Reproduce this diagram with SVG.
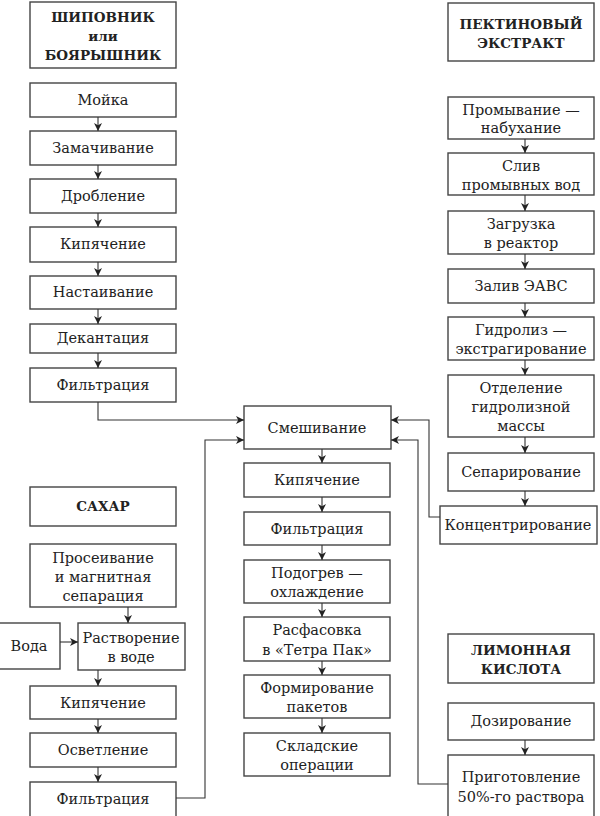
<svg xmlns="http://www.w3.org/2000/svg" width="600" height="816" viewBox="0 0 600 816">
<defs>
<marker id="ah" markerUnits="userSpaceOnUse" markerWidth="9" markerHeight="9" refX="8" refY="4.5" orient="auto">
<path d="M0,0.5 L8,4.5 L0,8.5 L2.2,4.5 Z" fill="#222"/>
</marker>
<style>
rect{fill:#fff;stroke:#444;stroke-width:1.4}
text{font-family:"DejaVu Serif","Liberation Serif",serif;font-size:14.5px;fill:#222;text-anchor:middle}
.b{font-weight:bold;font-size:13.5px}
.c line,.c polyline{stroke:#333;stroke-width:1.1;fill:none;marker-end:url(#ah)}
</style>
</defs>
<rect x="0" y="0" width="600" height="816" style="fill:#fff;stroke:none"/>
<g id="n_shipovnik"><rect x="30" y="2" width="146" height="66"/><text class="b" x="103" y="22">ШИПОВНИК</text><text class="b" x="103" y="41">или</text><text class="b" x="103" y="60">БОЯРЫШНИК</text></g>
<g id="n_moika"><rect x="30" y="83" width="146" height="34"/><text x="103" y="105">Мойка</text></g>
<g id="n_zamach"><rect x="30" y="131" width="146" height="34"/><text x="103" y="153">Замачивание</text></g>
<g id="n_drobl"><rect x="30" y="179" width="146" height="34"/><text x="103" y="201">Дробление</text></g>
<g id="n_kip1"><rect x="30" y="227" width="146" height="35"/><text x="103" y="249">Кипячение</text></g>
<g id="n_nast"><rect x="30" y="276" width="146" height="33"/><text x="103" y="297">Настаивание</text></g>
<g id="n_dekant"><rect x="30" y="324" width="146" height="29"/><text x="103" y="343">Декантация</text></g>
<g id="n_filt1"><rect x="30" y="368" width="146" height="34"/><text x="103" y="390">Фильтрация</text></g>

<g id="n_sahar"><rect x="30" y="487" width="146" height="39"/><text class="b" x="103" y="511">САХАР</text></g>
<g id="n_prosev"><rect x="30" y="544" width="146" height="63"/><text x="103" y="563">Просеивание</text><text x="103" y="582">и магнитная</text><text x="103" y="601">сепарация</text></g>
<g id="n_voda"><rect x="-2" y="623" width="62" height="46"/><text x="29" y="651">Вода</text></g>
<g id="n_rastv"><rect x="78" y="623" width="107" height="47"/><text x="131" y="643">Растворение</text><text x="131" y="662">в воде</text></g>
<g id="n_kip2"><rect x="30" y="686" width="146" height="33"/><text x="103" y="708">Кипячение</text></g>
<g id="n_osvet"><rect x="30" y="733" width="146" height="34"/><text x="103" y="755">Осветление</text></g>
<g id="n_filt2"><rect x="30" y="782" width="146" height="36"/><text x="103" y="804">Фильтрация</text></g>

<g id="n_smesh"><rect x="244" y="406" width="147" height="43"/><text x="317" y="433">Смешивание</text></g>
<g id="n_kip3"><rect x="244" y="463" width="146" height="34"/><text x="317" y="485">Кипячение</text></g>
<g id="n_filt3"><rect x="244" y="512" width="146" height="33"/><text x="317" y="534">Фильтрация</text></g>
<g id="n_podogr"><rect x="244" y="560" width="146" height="43"/><text x="317" y="578">Подогрев —</text><text x="317" y="597">охлаждение</text></g>
<g id="n_rasfas"><rect x="244" y="617" width="146" height="44"/><text x="317" y="635">Расфасовка</text><text x="317" y="655">в «Тетра Пак»</text></g>
<g id="n_form"><rect x="244" y="675" width="146" height="43"/><text x="317" y="693">Формирование</text><text x="317" y="712">пакетов</text></g>
<g id="n_sklad"><rect x="244" y="733" width="146" height="43"/><text x="317" y="751">Складские</text><text x="317" y="770">операции</text></g>

<g id="n_pektin"><rect x="448" y="3" width="146" height="58"/><text class="b" x="521" y="29">ПЕКТИНОВЫЙ</text><text class="b" x="521" y="48">ЭКСТРАКТ</text></g>
<g id="n_promyv"><rect x="448" y="97" width="146" height="42"/><text x="521" y="115">Промывание —</text><text x="521" y="133">набухание</text></g>
<g id="n_sliv"><rect x="448" y="153" width="146" height="42"/><text x="521" y="171">Слив</text><text x="521" y="190">промывных вод</text></g>
<g id="n_zagr"><rect x="448" y="211" width="146" height="43"/><text x="521" y="229">Загрузка</text><text x="521" y="248">в реактор</text></g>
<g id="n_zaliv"><rect x="448" y="269" width="146" height="34"/><text x="521" y="291">Залив ЭАВС</text></g>
<g id="n_gidrol"><rect x="448" y="317" width="146" height="43"/><text x="521" y="335">Гидролиз —</text><text x="521" y="354">экстрагирование</text></g>
<g id="n_otdel"><rect x="448" y="375" width="146" height="62"/><text x="521" y="393">Отделение</text><text x="521" y="412">гидролизной</text><text x="521" y="431">массы</text></g>
<g id="n_separ"><rect x="448" y="453" width="146" height="38"/><text x="521" y="477">Сепарирование</text></g>
<g id="n_konc"><rect x="440" y="506" width="157" height="38"/><text x="518" y="530">Концентрирование</text></g>

<g id="n_limon"><rect x="448" y="634" width="146" height="49"/><text class="b" x="521" y="655">ЛИМОННАЯ</text><text class="b" x="521" y="674">КИСЛОТА</text></g>
<g id="n_doz"><rect x="448" y="703" width="146" height="37"/><text x="521" y="726">Дозирование</text></g>
<g id="n_prigot"><rect x="448" y="755" width="146" height="62"/><text x="521" y="782">Приготовление</text><text x="521" y="802">50%-го раствора</text></g>

<g id="connectors" class="c">
<line x1="98" y1="117" x2="98" y2="131"/>
<line x1="98" y1="165" x2="98" y2="179"/>
<line x1="98" y1="213" x2="98" y2="227"/>
<line x1="98" y1="262" x2="98" y2="276"/>
<line x1="98" y1="309" x2="98" y2="324"/>
<line x1="98" y1="353" x2="98" y2="368"/>
<line x1="128" y1="607" x2="128" y2="623"/>
<line x1="60" y1="642" x2="78" y2="642"/>
<line x1="98" y1="670" x2="98" y2="686"/>
<line x1="98" y1="719" x2="98" y2="733"/>
<line x1="98" y1="767" x2="98" y2="782"/>
<line x1="322" y1="449" x2="322" y2="463"/>
<line x1="322" y1="497" x2="322" y2="512"/>
<line x1="322" y1="545" x2="322" y2="560"/>
<line x1="322" y1="603" x2="322" y2="617"/>
<line x1="322" y1="661" x2="322" y2="675"/>
<line x1="322" y1="718" x2="322" y2="733"/>
<line x1="525" y1="139" x2="525" y2="153"/>
<line x1="525" y1="195" x2="525" y2="211"/>
<line x1="525" y1="254" x2="525" y2="269"/>
<line x1="525" y1="303" x2="525" y2="317"/>
<line x1="525" y1="360" x2="525" y2="375"/>
<line x1="525" y1="437" x2="525" y2="453"/>
<line x1="525" y1="491" x2="525" y2="506"/>
<line x1="525" y1="740" x2="525" y2="755"/>
<polyline points="98,402 98,420 244,420"/>
<polyline points="176,798 205,798 205,440 244,440"/>
<polyline points="440,517 429,517 429,420 391,420"/>
<polyline points="448,784 418,784 418,440 391,440"/>
</g>
</svg>
